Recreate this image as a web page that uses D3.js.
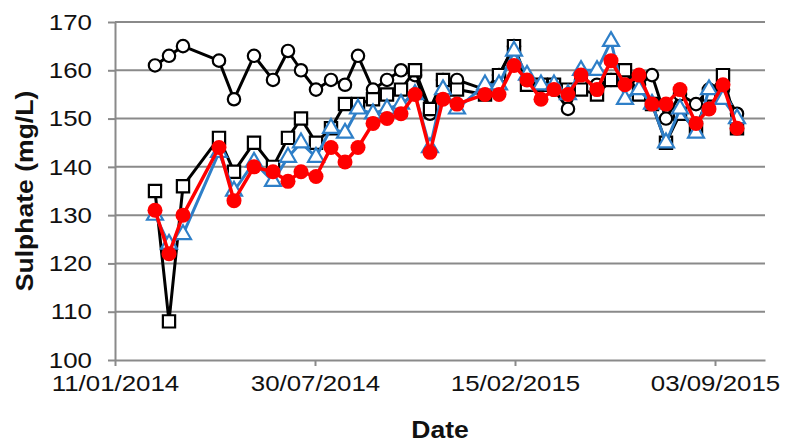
<!DOCTYPE html>
<html><head><meta charset="utf-8">
<script src="https://cdn.jsdelivr.net/npm/d3@7/dist/d3.min.js"></script>
<style>body{margin:0;background:#fff}svg{display:block}</style>
</head><body>
<svg id="c" width="786" height="442"></svg>
<script>
const dates = ["2014-02-20","2014-03-06","2014-03-20","2014-04-25","2014-05-10","2014-05-30","2014-06-18","2014-07-03","2014-07-16","2014-07-31","2014-08-15","2014-08-29","2014-09-11","2014-09-26","2014-10-10","2014-10-24","2014-11-07","2014-11-22","2014-12-05","2014-12-19","2015-01-16","2015-01-30","2015-02-14","2015-02-27","2015-03-13","2015-03-26","2015-04-09","2015-04-22","2015-05-08","2015-05-22","2015-06-05","2015-06-19","2015-07-02","2015-07-16","2015-07-30","2015-08-15","2015-08-28","2015-09-11","2015-09-25"];
const circleSeries = [161,163,165,162,154,163,158,164,160,156,158,157,163,156,158,160,159,151,158,158,156,159,165,158,157,156,152,158,157,158,158,157,159,150,155,153,156,156,151];
const squareSeries = [135,108,136,146,139,145,140,146,150,145,148,153,153,154,155,156,160,152,158,156,155,159,165,157,157,157,156,156,155,158,160,155,153,145,151,148,155,159,148];
const triangleSeries = [130,124,126,143,135,141,137,142,145,142,148,147,152,151,152,153,155,144,156,152,157,157,164,159,157,157,155,160,160,166,154,156,153,145,152,147,156,154,150];
const redSeries = [131,122,130,144,133,140,139,137,139,138,144,141,144,149,150,151,155,143,154,153,155,155,161,158,154,156,155,159,156,162,157,159,153,153,156,149,152,157,148];
const yTicks = [100,110,120,130,140,150,160,170];
const xTickLabels = ["2014-01-11","2014-07-30","2015-02-15","2015-09-03"];
const xDomain = ["2014-01-11","2015-10-23"];

const parse = d3.timeParse("%Y-%m-%d");
const svg = d3.select("#c");
const L = 115, R = 765, T = 22, B = 360;
const x = d3.scaleTime().domain(xDomain.map(parse)).range([L, R]);
const y = d3.scaleLinear().domain([100, 170]).range([B, T]);
const grid = "#8a8a8a";
const font = "'Liberation Sans', Arial, sans-serif";
const SX = 1.15;

// gridlines
svg.append("g").selectAll("line").data(yTicks.filter(v => v > 100)).join("line")
  .attr("x1", L).attr("x2", R).attr("y1", d => y(d)).attr("y2", d => y(d))
  .attr("stroke", grid).attr("stroke-width", 2);

// axes
const yAxis = svg.append("g").attr("transform", `translate(${L},0)`)
  .call(d3.axisLeft(y).tickValues(yTicks).tickSize(7).tickSizeOuter(0).tickPadding(13));
const xAxis = svg.append("g").attr("transform", `translate(0,${B})`)
  .call(d3.axisBottom(x).tickValues(xTickLabels.map(parse)).tickFormat(d3.timeFormat("%d/%m/%Y")).tickSize(6).tickSizeOuter(0).tickPadding(9));
[yAxis, xAxis].forEach(a => {
  a.select(".domain").attr("stroke", grid).attr("stroke-width", 2);
  a.selectAll(".tick line").attr("stroke", grid).attr("stroke-width", 2);
  a.selectAll("text").attr("fill", "#111").style("font-family", font).style("font-size", "22.5px")
    .attr("transform", `scale(${SX},1)`);
});

// axis titles
svg.append("text").attr("transform", `translate(33,191) rotate(-90) scale(1.13,1)`)
  .attr("text-anchor", "middle").style("font-family", font).style("font-size", "23.5px")
  .style("font-weight", "bold").attr("fill", "#111").text("Sulphate (mg/L)");
svg.append("text").attr("transform", `translate(${(L + R) / 2},438) scale(1.13,1)`)
  .attr("text-anchor", "middle").style("font-family", font).style("font-size", "23.5px")
  .style("font-weight", "bold").attr("fill", "#111").text("Date");

const pts = arr => arr.map((v, i) => ({ d: parse(dates[i]), v }));
const line = d3.line().x(p => x(p.d)).y(p => y(p.v));

function series(arr, color, lw, drawMarker) {
  const g = svg.append("g");
  g.append("path").datum(pts(arr)).attr("d", line).attr("fill", "none")
    .attr("stroke", color).attr("stroke-width", lw).attr("stroke-linejoin", "round");
  drawMarker(g.selectAll(null).data(pts(arr)).enter());
}

series(circleSeries, "#000", 3, s => s.append("circle")
  .attr("cx", p => x(p.d)).attr("cy", p => y(p.v)).attr("r", 6.2)
  .attr("fill", "#fff").attr("stroke", "#000").attr("stroke-width", 2.2));
series(squareSeries, "#000", 3, s => s.append("path")
  .attr("d", d3.symbol().type(d3.symbolSquare).size(150))
  .attr("transform", p => `translate(${x(p.d)},${y(p.v)})`)
  .attr("fill", "#fff").attr("stroke", "#000").attr("stroke-width", 2.2));
series(triangleSeries, "#2e7fc8", 3, s => s.append("path")
  .attr("d", d3.symbol().type(d3.symbolTriangle).size(110))
  .attr("transform", p => `translate(${x(p.d)},${y(p.v)})`)
  .attr("fill", "#fff").attr("stroke", "#2e7fc8").attr("stroke-width", 2.2));
series(redSeries, "#ff0000", 3.5, s => s.append("circle")
  .attr("cx", p => x(p.d)).attr("cy", p => y(p.v)).attr("r", 7.5)
  .attr("fill", "#ff0000"));
</script>
</body></html>
